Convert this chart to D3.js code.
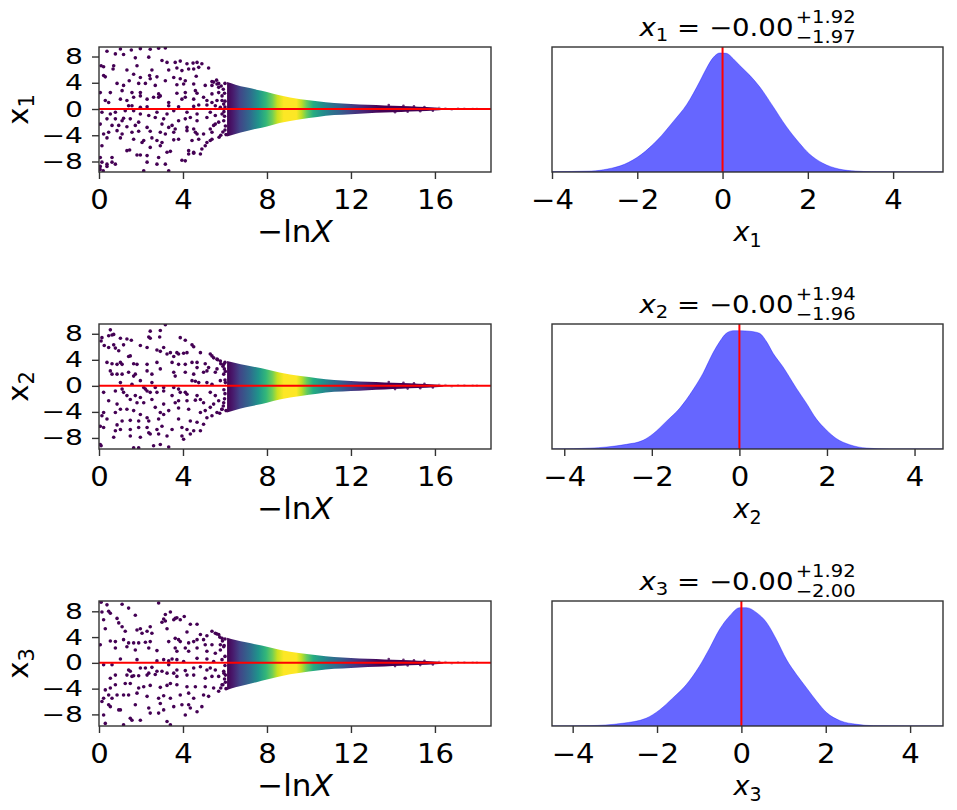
<!DOCTYPE html>
<html>
<head>
<meta charset="utf-8">
<script src="https://cdn.jsdelivr.net/npm/d3@7"></script>
<style>
  body { margin: 0; background: #fff; }
  text { font-family: "DejaVu Sans", sans-serif; fill: #000; }
</style>
</head>
<body>
<div id="chart"></div>
<script>
// ---- data ----
const paramIds = ['1', '2', '3'];
const medians = ['\u22120.00', '\u22120.00', '\u22120.00'];
const errPlus = ['+1.92', '+1.94', '+1.92'];
const errMinus = ['\u22121.97', '\u22121.96', '\u22122.00'];

const lnxTicks = [0, 4, 8, 12, 16];
const traceTicks = [-8, -4, 0, 4, 8];
const postTicks = [-4, -2, 0, 2, 4];

// sample weight (normalised) along -lnX, drives the colour of the dense band
const weightLnX = [6.1, 6.4, 6.7, 7.2, 7.6, 7.95, 8.25, 8.5, 8.8, 9.4, 9.65, 9.9, 10.2, 10.6, 11.0, 11.5, 11.95, 12.6, 13.4, 16.4];
const weightVal = [0.0, 0.08, 0.2, 0.35, 0.52, 0.66, 0.78, 0.92, 1.0, 1.0, 0.9, 0.76, 0.62, 0.5, 0.4, 0.3, 0.2, 0.1, 0.0, 0.0];

// envelope of the dense live-point band
const envLnX = [6.1, 6.5, 7.0, 7.5, 8.0, 8.6, 9.6, 10.4, 11.2, 12.0, 12.8, 13.6, 14.4, 15.2, 16.0, 16.4];
const env1Up = [4.1, 3.7, 3.3, 2.95, 2.6, 2.1, 1.5, 1.2, 0.92, 0.78, 0.66, 0.55, 0.44, 0.33, 0.22, 0.1];
const env1Lo = [-4.2, -3.8, -3.4, -3.0, -2.65, -2.15, -1.55, -1.2, -0.92, -0.78, -0.66, -0.55, -0.44, -0.33, -0.22, -0.1];
const env2Up = [3.8, 3.5, 3.15, 2.85, 2.5, 2.05, 1.5, 1.18, 0.9, 0.76, 0.64, 0.53, 0.43, 0.32, 0.21, 0.1];
const env2Lo = [-4.1, -3.7, -3.3, -2.95, -2.6, -2.1, -1.55, -1.2, -0.92, -0.78, -0.66, -0.55, -0.44, -0.33, -0.22, -0.1];
const env3Up = [3.9, 3.55, 3.2, 2.85, 2.5, 2.05, 1.5, 1.18, 0.9, 0.76, 0.64, 0.53, 0.43, 0.32, 0.21, 0.1];
const env3Lo = [-4.2, -3.8, -3.4, -3.0, -2.6, -2.1, -1.55, -1.2, -0.92, -0.78, -0.66, -0.55, -0.44, -0.33, -0.22, -0.1];

// scattered points after the band thins out
const tailPts = [[13.8, 0.6], [14.1, -0.5], [14.5, 0.48], [14.7, -0.42], [15.0, 0.4], [15.3, -0.35], [15.5, 0.3], [15.9, -0.25],
  [16.2, 0.18], [16.5, 0.12], [16.8, -0.1], [17.1, 0.1], [17.4, 0.08], [17.8, 0.05], [18.0, 0.04]];

// early (prior) dead points, [-lnX, value]
const pts1 = [[0.38,8.8],[1.02,9.15],[1.54,9.0],[1.97,9.2],[2.44,9.1],[2.84,9.25],[3.16,9.3],
  [0.78,8.4],[1.17,8.3],[1.73,7.8],[2.37,7.9],[3.0,7.4],[3.24,7.1],[3.63,7.1],[3.87,7.3],[4.19,6.9],[4.48,7.0],[4.67,7.1],[4.9,6.9],
  [0.1,6.6],[0.22,6.45],[0.7,6.6],[0.67,6.1],[1.33,5.95],[1.81,6.6],[2.52,5.95],[3.32,5.95],[3.71,6.25],[3.95,5.85],[4.27,6.1],[4.51,6.1],[4.75,6.35],[5.22,6.25],
  [0.22,5.1],[0.3,4.9],[1.44,4.3],[1.65,5.3],[1.97,4.8],[2.41,5.1],[2.44,4.6],[2.76,4.9],[3.16,4.3],[3.56,4.8],[3.87,4.6],[4.11,4.3],[4.63,5.0],[5.38,4.2],[5.46,4.1],
  [0.86,3.9],[1.17,3.6],[1.89,3.9],[2.21,3.9],[2.68,3.6],[3.71,3.7],[4.03,3.8],[4.51,3.8],[5.06,3.6],[5.38,3.6],[5.62,3.8],[5.7,3.3],
  [0.06,2.5],[0.54,2.5],[1.1,2.8],[1.57,2.5],[1.97,2.5],[1.97,2.0],[2.84,2.3],[2.92,2.0],[3.71,2.4],[4.11,2.5],[4.59,2.8],[4.67,2.4],[4.98,1.8],[5.38,2.3],[5.7,2.5],[5.86,2.0],
  [0.3,1.3],[0.46,1.0],[1.02,1.5],[1.33,1.3],[1.65,1.8],[2.29,1.5],[2.6,1.8],[2.84,1.8],[3.32,1.0],[3.95,1.5],[4.11,1.8],[4.51,1.5],[5.14,1.3],[5.38,1.0],[5.62,1.3],[5.86,1.3],
  [1.41,0.5],[1.57,0.5],[1.97,0.25],[2.29,0.35],[3.32,0.5],[3.79,0.35],[4.51,0.4],[4.75,0.6],[5.14,0.6],[5.54,0.5],[5.78,0.25],[5.94,0.75],
  [0.14,-0.5],[0.54,-0.75],[0.78,-0.5],[1.25,-0.25],[1.65,-0.25],[1.97,-0.75],[2.76,-0.5],[3.24,-0.75],[3.56,-0.25],[4.19,-0.5],[4.67,-0.75],[5.3,-0.5],[5.54,-1.0],[5.86,-0.75],
  [0.06,-2.3],[0.38,-1.5],[0.78,-1.5],[1.1,-1.8],[1.17,-1.4],[1.49,-1.5],[1.89,-2.0],[2.37,-1.0],[2.68,-1.3],[3.08,-1.5],[3.48,-2.5],[3.79,-1.8],[4.11,-1.5],[4.35,-1.3],[4.67,-1.8],[5.14,-1.3],[5.54,-2.3],[5.7,-2.0],[5.94,-1.8],
  [0.62,-2.5],[0.94,-2.5],[1.33,-2.7],[1.73,-2.5],[2.29,-2.8],[3.0,-2.3],[3.32,-2.8],[3.63,-3.05],[4.19,-2.8],[4.51,-3.05],[5.3,-3.05],[5.46,-2.5],
  [0.22,-3.8],[0.46,-3.55],[0.86,-3.3],[1.1,-3.8],[1.57,-3.55],[1.89,-3.4],[2.44,-3.4],[2.92,-3.55],[3.16,-3.8],[3.56,-3.55],[4.19,-3.3],[4.59,-3.55],[4.67,-3.8],[4.98,-3.8],[5.38,-3.55],
  [0.38,-4.4],[1.02,-4.4],[1.65,-4.6],[2.05,-5.1],[2.13,-4.8],[2.52,-4.4],[2.76,-4.8],[3.0,-5.1],[3.56,-4.7],[3.79,-4.6],[4.43,-4.8],[4.75,-4.6],[5.14,-5.1],[5.3,-4.8],[5.38,-4.6],
  [0.14,-5.6],[1.33,-6.35],[1.46,-6.25],[2.44,-5.85],[2.92,-5.6],[3.4,-6.45],[4.27,-6.35],[4.51,-6.6],[4.9,-6.1],[5.06,-5.6],
  [0.06,-7.4],[0.62,-7.4],[1.81,-7.0],[1.97,-7.0],[2.29,-7.1],[2.84,-7.4],[3.24,-6.6],[4.27,-6.85],[4.51,-6.75],[4.83,-6.85],
  [0.14,-8.1],[0.62,-8.1],[0.38,-8.4],[0.78,-8.4],[2.29,-8.1],[2.76,-8.4],[3.16,-8.4],[3.95,-7.8],[4.11,-7.9],[0.06,-8.75],[0.38,-8.75],[2.13,-9.4],[3.32,-9.4],
  [0.05,-9.2],[0.2,-9.4],[6.0,3.9],[6.05,-3.9],[6.0,1.2],[6.02,-2.6],
  [5.6,4.4],[5.7,3.9],[5.82,3.5],[5.92,3.0],[5.98,2.4],[6.0,0.3],[5.95,-0.4],[5.98,-1.1],[6.0,-3.2],[5.9,-3.5],[5.8,-4.0],[5.72,-4.3]];

const pts2 = [[0.14,7.4],[0.54,8.6],[0.62,7.8],[0.46,7.7],[0.7,7.9],[1.02,7.3],[1.33,7.2],[1.54,7.0],[2.44,8.4],[2.92,8.5],[3.16,9.4],[2.37,7.5],[2.44,7.3],[2.89,7.5],[3.87,7.4],[4.11,7.0],
  [0.1,6.9],[0.25,6.2],[0.46,5.9],[0.7,6.3],[0.78,5.8],[0.94,5.4],[1.17,6.3],[1.41,4.5],[1.49,4.6],[1.97,6.2],[2.29,5.9],[2.76,5.5],[2.92,5.3],[3.08,5.9],[3.24,4.9],[3.4,5.1],[3.56,4.5],[3.71,5.1],[3.79,4.9],[4.03,5.0],[4.19,5.1],[4.43,6.3],[4.51,6.0],[4.83,5.1],[5.3,4.9],[5.38,4.6],[5.46,4.3],[5.62,4.1],[5.78,3.8],[5.94,3.3],
  [0.38,3.6],[0.62,3.4],[0.86,3.3],[1.02,3.6],[1.1,3.3],[1.65,3.4],[1.81,3.3],[2.29,3.3],[2.76,3.6],[3.48,3.6],[3.79,3.3],[4.11,3.3],[4.43,3.6],[4.67,3.6],[5.06,3.4],[5.22,2.8],[5.62,2.6],
  [0.54,2.3],[0.62,1.8],[0.86,1.8],[1.1,1.8],[1.41,2.1],[1.65,1.5],[1.73,1.8],[2.29,2.3],[2.52,1.8],[2.92,2.6],[3.56,2.1],[3.63,1.5],[4.11,2.1],[4.51,1.8],[4.67,2.8],[4.98,2.1],[5.14,2.3],[5.54,2.1],[5.94,1.8],
  [1.02,0.5],[1.57,0.25],[1.97,0.8],[2.13,-0.25],[2.21,-0.5],[2.29,-0.8],[2.52,0.5],[2.68,-0.25],[3.08,-0.25],[3.56,-0.25],[3.79,-0.5],[4.43,0.8],[4.59,0.7],[4.75,0.5],[5.14,0.5],[5.38,0.25],[5.78,0.8],[6.02,0.5],
  [0.22,-1.0],[0.78,-0.8],[1.1,-0.5],[1.17,-1.0],[1.33,-1.5],[1.73,-1.5],[1.97,-1.8],[2.44,-1.0],[2.76,-1.0],[3.08,-0.8],[3.48,-1.5],[3.87,-1.0],[4.11,-1.0],[4.19,-1.3],[4.67,-1.5],[4.83,-2.1],[5.3,-1.0],[5.54,-1.5],[5.7,-2.3],[5.94,-2.6],
  [0.46,-2.3],[0.86,-2.8],[1.49,-2.1],[1.81,-2.6],[2.13,-2.6],[2.52,-2.1],[3.08,-2.8],[3.63,-2.6],[3.79,-2.3],[4.19,-2.3],[4.59,-2.2],[4.98,-2.6],[5.46,-2.8],
  [0.22,-4.1],[0.14,-4.6],[0.78,-4.1],[1.02,-3.6],[1.33,-3.6],[1.65,-3.8],[1.97,-4.4],[2.68,-3.3],[2.92,-4.1],[3.32,-3.8],[3.79,-3.4],[4.27,-3.6],[4.83,-4.1],[5.06,-3.8],[5.3,-3.3],[5.62,-4.1],[5.86,-3.6],
  [0.38,-5.1],[0.86,-6.0],[1.1,-5.4],[1.49,-5.3],[1.89,-5.4],[2.29,-4.9],[2.37,-5.4],[2.84,-5.1],[3.08,-4.4],[3.79,-5.1],[4.35,-5.4],[4.67,-5.6],[5.14,-4.9],[5.38,-4.6],
  [0.06,-6.2],[0.22,-6.4],[0.78,-6.9],[1.02,-6.7],[1.49,-6.7],[1.89,-6.4],[2.29,-6.4],[2.37,-7.2],[2.76,-6.7],[3.0,-6.2],[3.48,-6.7],[3.95,-6.4],[4.19,-6.7],[4.51,-6.9],[4.83,-6.9],[4.98,-5.9],
  [0.7,-7.9],[1.49,-7.7],[1.97,-7.9],[2.44,-7.4],[2.84,-7.4],[3.24,-7.7],[3.95,-7.7],[4.03,-8.2],[4.35,-7.4],
  [0.06,-9.0],[0.1,-9.2],[1.65,-9.5],[1.89,-9.5],[2.6,-9.2],[2.92,-9.0],[3.32,-9.4],
  [6.0,3.6],[6.05,-3.8],[6.0,-1.2],[6.02,2.2],
  [5.65,4.0],[5.8,3.4],[5.9,3.0],[5.97,2.6],[6.0,0.9],[5.95,-0.6],[5.98,-2.0],[5.92,-3.1],[5.85,-3.6],[5.75,-4.2]];

const pts3 = [[0.1,9.4],[0.38,9.0],[0.14,7.9],[0.46,8.0],[0.54,7.7],[1.1,9.1],[1.41,8.5],[1.73,7.4],[2.84,9.3],[3.16,7.5],[3.4,7.9],[3.71,7.0],[3.87,6.7],[4.06,7.2],[4.35,6.0],[4.67,6.0],
  [0.22,6.7],[0.3,5.3],[0.86,6.9],[0.94,6.2],[1.1,5.6],[1.25,4.9],[1.81,5.1],[1.97,5.3],[2.05,4.6],[2.29,4.9],[2.44,5.6],[2.52,4.6],[3.0,6.3],[3.08,6.8],[3.16,6.5],[3.24,5.3],[3.56,6.7],[3.63,6.9],[4.19,4.8],[4.83,4.4],[5.14,4.2],[5.38,4.9],[5.54,4.6],[5.7,4.4],[5.86,3.8],
  [0.06,2.8],[0.54,3.4],[0.78,3.3],[1.17,3.6],[1.41,3.1],[1.65,3.1],[1.89,3.1],[2.21,3.2],[2.44,3.3],[3.32,3.3],[3.63,3.8],[3.79,3.6],[3.87,3.3],[4.27,3.1],[4.51,3.3],[4.67,3.6],[4.98,3.6],[5.06,2.8],[5.38,2.8],[5.78,2.8],[5.94,2.5],
  [0.78,2.3],[1.33,2.5],[1.73,2.0],[2.37,2.3],[2.76,1.9],[3.63,2.3],[3.71,1.8],[4.11,2.3],[4.27,1.8],[4.67,2.3],[5.14,1.8],[5.54,1.5],[5.78,2.0],
  [1.02,0.6],[1.81,0.5],[2.76,0.3],[3.08,0.5],[3.32,0.3],[3.48,0.6],[3.71,0.5],[4.03,0.2],[4.67,0.7],[5.14,0.6],[5.46,0.2],[5.86,0.5],
  [0.22,-0.3],[0.62,-0.3],[1.41,-1.1],[1.49,-1.3],[1.97,-0.8],[2.21,-0.8],[2.52,-0.7],[2.76,-1.3],[3.0,-1.3],[3.32,-0.3],[3.71,-1.1],[4.11,-1.2],[4.51,-0.8],[4.83,-0.6],[5.14,-1.1],[5.3,-0.8],[5.54,-1.1],[5.94,-1.3],
  [0.54,-2.4],[0.78,-1.9],[1.33,-1.9],[1.57,-2.1],[1.65,-2.0],[1.89,-2.0],[2.29,-1.9],[2.37,-1.6],[2.68,-1.8],[3.24,-1.6],[3.56,-1.6],[3.71,-2.1],[4.19,-1.9],[4.51,-1.9],[5.06,-2.4],[5.38,-2.1],[5.7,-2.1],[6.02,-1.9],
  [0.3,-4.2],[0.54,-3.9],[0.78,-3.4],[1.25,-3.2],[1.49,-3.2],[1.89,-3.9],[2.13,-3.7],[2.44,-3.5],[2.92,-3.8],[3.24,-3.5],[3.4,-3.2],[3.71,-3.4],[4.19,-3.7],[4.59,-3.7],[5.06,-3.7],[5.46,-3.9],[5.86,-3.4],
  [0.22,-5.5],[0.46,-5.0],[0.62,-5.5],[0.86,-5.0],[1.17,-5.0],[1.41,-5.0],[1.81,-4.7],[2.29,-5.2],[2.84,-5.5],[3.08,-5.1],[3.4,-5.5],[3.87,-5.0],[4.27,-4.7],[4.51,-5.5],[4.98,-5.0],[5.22,-5.2],
  [0.14,-6.0],[0.46,-6.5],[0.54,-6.8],[0.94,-7.3],[1.02,-7.3],[1.73,-6.5],[2.37,-7.0],[2.92,-6.3],[3.08,-7.3],[3.56,-6.8],[3.95,-6.5],[4.27,-6.5],[4.35,-7.0],[4.67,-7.6],[4.9,-6.8],
  [0.22,-8.1],[1.49,-8.6],[1.57,-8.9],[1.97,-8.9],[2.44,-7.8],[2.84,-7.8],[3.24,-9.1],[4.11,-8.1],[3.4,-9.6],[1.17,-9.6],[0.3,-9.4],
  [6.0,3.7],[6.05,-4.0],[6.0,1.0],[6.02,-3.0],
  [5.6,4.5],[5.75,4.0],[5.88,3.4],[5.96,2.7],[6.0,-0.4],[5.95,-1.6],[5.98,-2.5],[5.9,-3.4],[5.8,-3.9],[5.7,-4.4]];

// marginal posterior densities (relative to peak)
const x1Grid = [-4.0, -3.08, -2.7, -2.3, -1.91, -1.52, -1.15, -0.84, -0.53, -0.37, -0.22, -0.06, 0.09, 0.25, 0.4, 0.64, 0.87, 1.18, 1.49, 1.8, 2.03, 2.34, 2.73, 3.12, 3.5, 5.17];
const x1Dens = [0.003, 0.008, 0.025, 0.065, 0.146, 0.272, 0.427, 0.567, 0.764, 0.876, 0.961, 1.0, 0.997, 0.952, 0.896, 0.812, 0.716, 0.553, 0.385, 0.244, 0.154, 0.076, 0.025, 0.008, 0.003, 0.0];
const x2Grid = [-4.28, -3.79, -3.03, -2.58, -2.2, -1.97, -1.67, -1.36, -1.06, -0.83, -0.6, -0.45, -0.3, -0.14, 0.01, 0.24, 0.46, 0.62, 0.77, 0.99, 1.3, 1.53, 1.76, 1.98, 2.21, 2.52, 2.9, 3.43, 4.65];
const x2Dens = [0, 0.003, 0.017, 0.039, 0.073, 0.128, 0.232, 0.344, 0.497, 0.637, 0.81, 0.902, 0.972, 0.994, 0.994, 0.989, 0.972, 0.902, 0.804, 0.693, 0.511, 0.385, 0.251, 0.162, 0.089, 0.036, 0.008, 0.0, 0.0];
const x3Grid = [-4.49, -3.61, -2.82, -2.26, -1.94, -1.63, -1.31, -1.0, -0.75, -0.52, -0.28, -0.04, 0.12, 0.36, 0.6, 0.83, 1.07, 1.31, 1.55, 1.79, 2.02, 2.34, 2.74, 3.13, 4.78];
const x3Dens = [0, 0.003, 0.023, 0.065, 0.135, 0.234, 0.346, 0.5, 0.656, 0.81, 0.924, 0.994, 0.994, 0.952, 0.868, 0.727, 0.558, 0.431, 0.318, 0.206, 0.113, 0.045, 0.014, 0.003, 0];

const truths = [0, 0, 0];

// axis limits as they appear in the picture
const lnxLim = [0, 18.67];
const traceLims = [[-9.6, 9.45], [-9.7, 9.5], [-9.8, 9.6]];
const postLims = [[-4.0, 5.17], [-4.28, 4.65], [-4.49, 4.78]];

const panels = [
  { pts: pts1, up: env1Up, lo: env1Lo, grid: x1Grid, dens: x1Dens },
  { pts: pts2, up: env2Up, lo: env2Lo, grid: x2Grid, dens: x2Dens },
  { pts: pts3, up: env3Up, lo: env3Lo, grid: x3Grid, dens: x3Dens }
];

// ---- layout ----
const W = 957, H = 810;
const rowTop = [47, 324, 601], rowH = 125;
const L0 = 99, L1 = 491, R0 = 552, R1 = 943;
const axisCol = '#333';
const stretch = 1.15; // text in the picture is a little wider than it is tall

const svg = d3.select('#chart').append('svg')
  .attr('width', W).attr('height', H)
  .style('background', '#fff');
const defs = svg.append('defs');

const color = d3.scaleSequential(d3.interpolateViridis).domain([0, 1]);
const xL = d3.scaleLinear().domain(lnxLim).range([L0, L1]);

function styleAxis(g, size, sx, left) {
  g.select('.domain').remove();
  g.selectAll('.tick line').attr('stroke', axisCol).attr('stroke-width', 1.4);
  g.selectAll('.tick text')
    .attr('font-size', size).attr('font-family', 'DejaVu Sans').attr('fill', '#000')
    .each(function () {
      const t = d3.select(this);
      if (left) t.attr('x', +t.attr('x') / sx);
      t.attr('transform', 'scale(' + sx + ',1)');
    });
}

panels.forEach(function (p, i) {
  const top = rowTop[i], bot = top + rowH;

  // ---------- left: trace ----------
  const yL = d3.scaleLinear().domain(traceLims[i]).range([bot, top]);
  defs.append('clipPath').attr('id', 'clipL' + i)
    .append('rect').attr('x', L0).attr('y', top).attr('width', L1 - L0).attr('height', rowH);

  const grad = defs.append('linearGradient').attr('id', 'wgrad' + i)
    .attr('gradientUnits', 'userSpaceOnUse')
    .attr('x1', xL(weightLnX[0])).attr('x2', xL(weightLnX[weightLnX.length - 1]))
    .attr('y1', 0).attr('y2', 0);
  const span = xL(weightLnX[weightLnX.length - 1]) - xL(weightLnX[0]);
  weightLnX.forEach(function (v, k) {
    grad.append('stop')
      .attr('offset', (xL(v) - xL(weightLnX[0])) / span)
      .attr('stop-color', color(weightVal[k]));
  });

  const plot = svg.append('g').attr('clip-path', 'url(#clipL' + i + ')');

  const band = d3.area()
    .x(d => xL(d.x))
    .y0(d => yL(d.lo))
    .y1(d => yL(d.hi))
    .curve(d3.curveMonotoneX);
  plot.append('path')
    .datum(envLnX.map((x, k) => ({ x: x, hi: p.up[k], lo: p.lo[k] })))
    .attr('d', band)
    .attr('fill', 'url(#wgrad' + i + ')');

  plot.selectAll('circle.pt')
    .data(p.pts)
    .enter().append('circle')
    .attr('class', 'pt')
    .attr('cx', d => xL(d[0]))
    .attr('cy', d => yL(d[1]))
    .attr('r', 1.8)
    .attr('fill', color(0));

  plot.selectAll('circle.tail')
    .data(tailPts)
    .enter().append('circle')
    .attr('class', 'tail')
    .attr('cx', d => xL(d[0]))
    .attr('cy', d => yL(d[1]))
    .attr('r', 1.3)
    .attr('fill', color(0))
    .attr('fill-opacity', d => d[0] > 16 ? 0.3 : 0.8);

  // truth line
  plot.append('line')
    .attr('x1', L0).attr('x2', L1)
    .attr('y1', yL(truths[i])).attr('y2', yL(truths[i]))
    .attr('stroke', 'red').attr('stroke-width', 2);

  svg.append('rect').attr('x', L0).attr('y', top).attr('width', L1 - L0).attr('height', rowH)
    .attr('fill', 'none').attr('stroke', axisCol).attr('stroke-width', 1.4);

  svg.append('g')
    .attr('transform', 'translate(0,' + bot + ')')
    .call(d3.axisBottom(xL).tickValues(lnxTicks).tickSize(7).tickPadding(11.5).tickSizeOuter(0))
    .call(g => styleAxis(g, 26, 1.12, false));

  svg.append('g')
    .attr('transform', 'translate(' + L0 + ',0)')
    .call(d3.axisLeft(yL).tickValues(traceTicks).tickSize(7).tickPadding(9).tickSizeOuter(0))
    .call(g => styleAxis(g, 22, 1.28, true));

  const xlab = svg.append('text')
    .attr('x', (L0 + L1) / 2).attr('y', bot + 70)
    .attr('text-anchor', 'middle').attr('font-size', 31);
  xlab.append('tspan').text('\u2212ln');
  xlab.append('tspan').attr('font-style', 'italic').text('X');

  const ylab = svg.append('text')
    .attr('transform', 'translate(28,' + (top + rowH / 2) + ') rotate(-90)')
    .attr('text-anchor', 'middle').attr('font-size', 29);
  ylab.append('tspan').text('x');
  ylab.append('tspan').attr('font-size', 21).attr('dy', 6).text(paramIds[i]);

  // ---------- right: marginal posterior ----------
  const xR = d3.scaleLinear().domain(postLims[i]).range([R0, R1]);
  const yR = d3.scaleLinear().domain([0, 1.05]).range([bot, top]);
  defs.append('clipPath').attr('id', 'clipR' + i)
    .append('rect').attr('x', R0).attr('y', top).attr('width', R1 - R0).attr('height', rowH);
  const rplot = svg.append('g').attr('clip-path', 'url(#clipR' + i + ')');

  const dens = p.grid.map((x, k) => ({ x: x, y: p.dens[k] }));
  rplot.append('path')
    .datum(dens)
    .attr('d', d3.area().x(d => xR(d.x)).y0(yR(0)).y1(d => yR(d.y)).curve(d3.curveMonotoneX))
    .attr('fill', 'blue').attr('fill-opacity', 0.6)
    .attr('stroke', 'blue').attr('stroke-opacity', 0.35).attr('stroke-width', 1);

  rplot.append('line')
    .attr('x1', xR(truths[i])).attr('x2', xR(truths[i]))
    .attr('y1', top).attr('y2', bot)
    .attr('stroke', 'red').attr('stroke-width', 2);

  svg.append('rect').attr('x', R0).attr('y', top).attr('width', R1 - R0).attr('height', rowH)
    .attr('fill', 'none').attr('stroke', axisCol).attr('stroke-width', 1.4);

  svg.append('g')
    .attr('transform', 'translate(0,' + bot + ')')
    .call(d3.axisBottom(xR).tickValues(postTicks).tickSize(7).tickPadding(11.5).tickSizeOuter(0))
    .call(g => styleAxis(g, 26, 1.12, false));

  const rlab = svg.append('text')
    .attr('x', (R0 + R1) / 2).attr('y', bot + 69)
    .attr('text-anchor', 'middle').attr('font-size', 27);
  rlab.append('tspan').attr('font-style', 'italic').text('x');
  rlab.append('tspan').attr('font-size', 19).attr('dy', 6).text(paramIds[i]);

  // title:  x_i = med^{+a}_{-b}
  const tb = top - 11.5;
  const tg = svg.append('g')
    .attr('transform', 'translate(' + ((R0 + R1) / 2) + ',' + tb + ') scale(' + stretch + ',1)');
  const t = tg.append('text').attr('y', 0).attr('font-size', 24);
  t.append('tspan').attr('font-style', 'italic').text('x');
  t.append('tspan').attr('font-size', 17).attr('dy', 5).text(paramIds[i]);
  t.append('tspan').attr('dy', -5).text(' = ' + medians[i]);
  const tw = t.node().getComputedTextLength();
  const sup = tg.append('text').attr('y', -13).attr('font-size', 17).text(errPlus[i]);
  const sub = tg.append('text').attr('y', 7).attr('font-size', 17).text(errMinus[i]);
  const sw = Math.max(sup.node().getComputedTextLength(), sub.node().getComputedTextLength());
  const x0 = -(tw + sw + 2) / 2;
  t.attr('x', x0);
  sup.attr('x', x0 + tw + 2);
  sub.attr('x', x0 + tw + 2);
});
</script>
</body>
</html>
